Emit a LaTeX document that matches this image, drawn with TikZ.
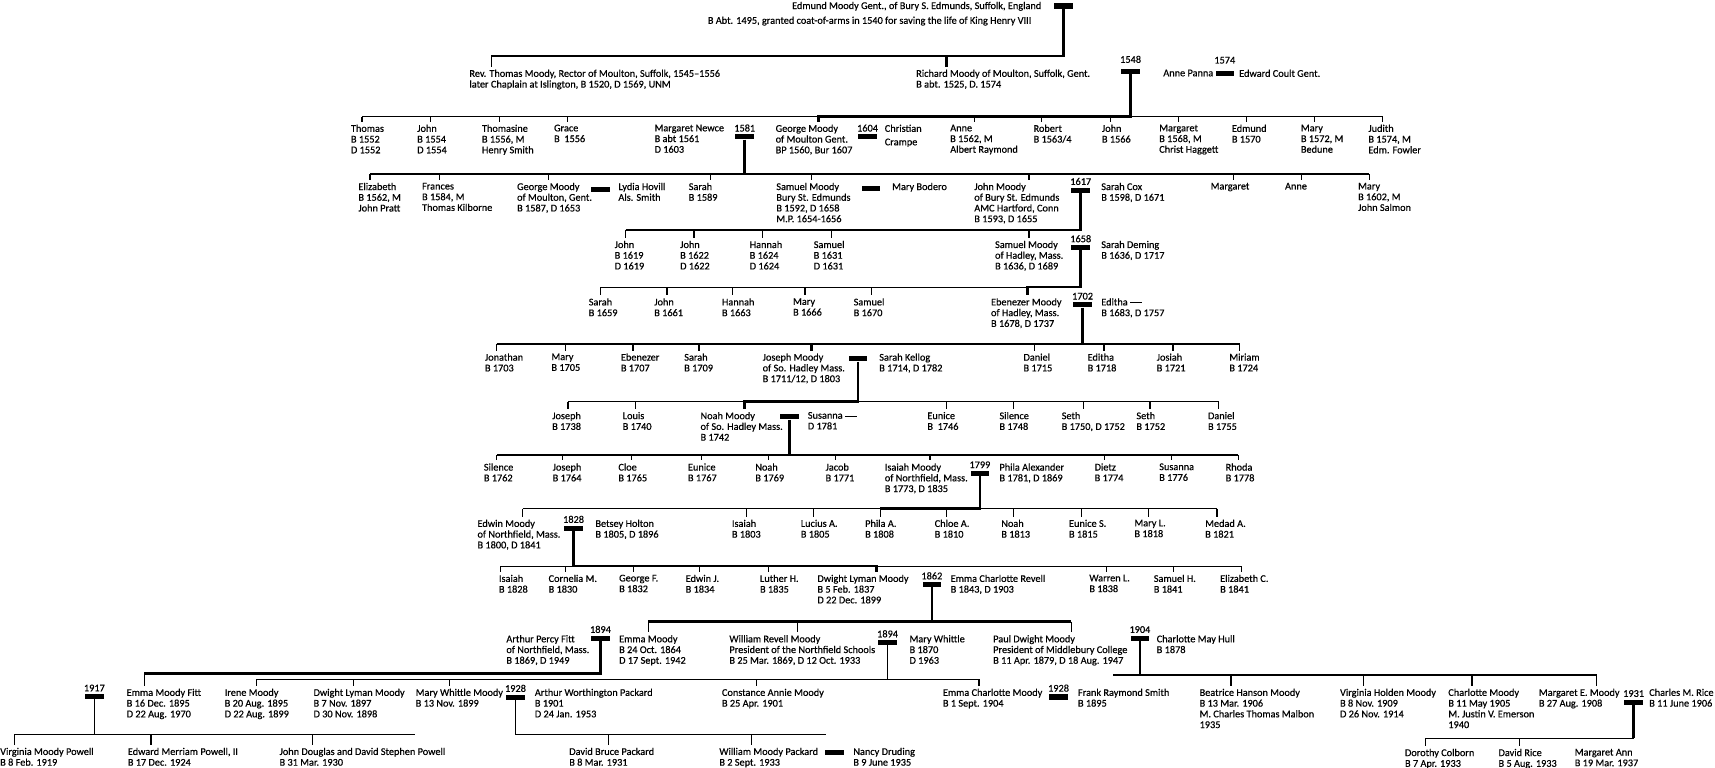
\documentclass[tikz,border=0pt]{standalone}
\usepackage{fontspec}
\setmainfont{Carlito}
\newfontfamily\treefont{Carlito}[Ligatures=TeX, FakeBold=0.45]
\usetikzlibrary{positioning}
\newcommand{\longdash}{\rule[2.3pt]{11pt}{0.5pt}}
\begin{document}
\begin{tikzpicture}[x=1pt,y=-1pt,
	per/.style={
		anchor=north west,
		align=left,
		inner sep=0pt,
		font=\treefont\fontsize{9.4}{9.8}\selectfont
	},
	yr/.style={inner sep=0pt, font=\treefont\fontsize{9.4}{9.8}\selectfont},
	bar/.style={fill=black, inner sep=0pt, minimum width=17pt, minimum height=4.8pt},
	kin/.style={line width=1.1pt},
	tick/.style={line width=1.1pt, shorten >=2.5pt},
	tie/.style={line width=2.4pt}
	]
	\path[fill=white] (0,0) rectangle (1568,702);
	\useasboundingbox (0,0) rectangle (1568,702);
	%---------------- GEN 0 ----------------
	\node[per] (edmund) at (724,1.5) {Edmund Moody Gent., of Bury S. Edmunds, Suffolk, England};
	\node[per] (edmundb) at (647,15) {B Abt. 1495, granted coat-of-arms in 1540 for saving the life of King Henry VIII};
	\node[bar] (bedmund) at (972.2,5.5) {};
	%---------------- GEN 1 ----------------
	\coordinate (revthomas-t) at (449.3,51.2);
	\coordinate (richard-t) at (865.3,51.2);
	\node[per] (revthomas) at (429,63.5) {Rev. Thomas Moody, Rector of Moulton, Suffolk, 1545--1556\\later Chaplain at Islington, B 1520, D 1569, UNM};
	\node[per] (richard) at (837.5,63.5) {Richard Moody of Moulton, Suffolk, Gent.\\B abt. 1525, D. 1574};
	\node[bar] (b1548) at (1033.7,65.3) {};
	\node[yr, above=5pt of b1548] (y1548) {1548};
	\node[per] (annepanna) at (1063.4,63.5) {Anne Panna};
	\node[bar] (b1574) at (1119.8,66.9) {};
	\node[yr, above=6pt of b1574] (y1574) {1574};
	\node[per] (edwardcoult) at (1132.8,63.5) {Edward Coult Gent.};
	\draw[kin] (revthomas-t) -- (richard-t);
	\draw[tick] (revthomas-t) -- (revthomas-t |- revthomas.north);
	\draw[tie, shorten >=2.5pt] (bedmund.south) -- (bedmund.south |- richard-t) -- (richard-t) -- (richard-t |- richard.north);
	%---------------- GEN 2 ----------------
	\coordinate (thomas1552-t) at (330.9,106.7);
	\coordinate (john1554-t) at (393.4,106.7);
	\coordinate (thomasine-t) at (456.7,106.7);
	\coordinate (grace-t) at (518.6,106.7);
	\coordinate (george1560-t) at (748.5,106.7);
	\coordinate (anne1562-t) at (890.6,106.7);
	\coordinate (robert-t) at (952.5,106.7);
	\coordinate (john1566-t) at (1015.1,106.7);
	\coordinate (margaret1568-t) at (1077.5,106.7);
	\coordinate (edmund1570-t) at (1139.5,106.7);
	\coordinate (mary1572-t) at (1201.6,106.7);
	\coordinate (judith-t) at (1264.3,106.7);
	\node[per] (thomas1552) at (320.7,113.8) {Thomas\\B 1552\\D 1552};
	\node[per] (john1554) at (381.3,113.8) {John\\B 1554\\D 1554};
	\node[per] (thomasine) at (440.5,113.8) {Thomasine\\B 1556, M\\Henry Smith};
	\node[per] (grace) at (506.4,113.8) {Grace\\B~~1556};
	\node[per] (margaretnewce) at (598.3,113.8) {Margaret Newce\\B abt 1561\\D 1603};
	\node[bar] (b1581) at (680.9,125.1) {};
	\node[yr, above=2pt of b1581] (y1581) {1581};
	\node[per] (george1560) at (709,113.8) {George Moody\\of Moulton Gent.\\BP 1560, Bur 1607};
	\node[bar] (b1604) at (793.2,125.1) {};
	\node[yr, above=2pt of b1604] (y1604) {1604};
	\node[per] (christian) at (808.8,113.8) {Christian\\[2.5pt]Crampe};
	\node[per] (anne1562) at (868.6,113.8) {Anne\\B 1562, M\\Albert Raymond};
	\node[per] (robert) at (944.8,113.8) {Robert\\B 1563/4};
	\node[per] (john1566) at (1007.3,113.8) {John\\B 1566};
	\node[per] (margaret1568) at (1059.7,113.8) {Margaret\\B 1568, M\\Christ Haggett};
	\node[per] (edmund1570) at (1126.1,113.8) {Edmund\\B 1570};
	\node[per] (mary1572) at (1189.2,113.8) {Mary\\B 1572, M\\Bedune};
	\node[per] (judith) at (1250.9,113.8) {Judith\\B 1574, M\\Edm. Fowler};
	\draw[kin] (thomas1552-t) -- (judith-t);
	\draw[tick] (thomas1552-t) -- (thomas1552-t |- thomas1552.north);
	\draw[tick] (john1554-t) -- (john1554-t |- john1554.north);
	\draw[tick] (thomasine-t) -- (thomasine-t |- thomasine.north);
	\draw[tick] (grace-t) -- (grace-t |- grace.north);
	\draw[tick] (anne1562-t) -- (anne1562-t |- anne1562.north);
	\draw[tick] (robert-t) -- (robert-t |- robert.north);
	\draw[tick] (john1566-t) -- (john1566-t |- john1566.north);
	\draw[tick] (margaret1568-t) -- (margaret1568-t |- margaret1568.north);
	\draw[tick] (edmund1570-t) -- (edmund1570-t |- edmund1570.north);
	\draw[tick] (mary1572-t) -- (mary1572-t |- mary1572.north);
	\draw[tick] (judith-t) -- (judith-t |- judith.north);
	\draw[tie, shorten >=2.5pt] (b1548.south) -- (b1548.south |- george1560-t) -- (george1560-t) -- (george1560-t |- george1560.north);
	%---------------- GEN 3 ----------------
	\coordinate (elizabeth-t) at (338.3,159.1);
	\coordinate (frances-t) at (401.6,159.1);
	\coordinate (george1587-t) at (501.7,159.1);
	\coordinate (sarah1589-t) at (649.8,159.1);
	\coordinate (samuel1592-t) at (742.1,159.1);
	\coordinate (john1593-t) at (940.7,159.1);
	\coordinate (margaret-t) at (1127.8,159.1);
	\coordinate (anne-t) at (1189.8,159.1);
	\coordinate (mary1602-t) at (1251.9,159.1);
	\node[per] (elizabeth) at (327.5,167) {Elizabeth\\B 1562, M\\John Pratt};
	\node[per] (frances) at (385.7,167) {Frances\\B 1584, M\\Thomas Kilborne};
	\node[per] (george1587) at (472.6,167) {George Moody\\of Moulton, Gent.\\B 1587, D 1653};
	\node[bar] (bgeorge) at (549.1,173) {};
	\node[per] (lydia) at (565.2,167) {Lydia Hovill\\Als. Smith};
	\node[per] (sarah1589) at (629.5,167) {Sarah\\B 1589};
	\node[per] (samuel1592) at (709.6,167) {Samuel Moody\\Bury St. Edmunds\\B 1592, D 1658\\M.P. 1654-1656};
	\node[bar] (bsamuel) at (796.3,172.5) {};
	\node[per] (marybodero) at (815.5,167) {Mary Bodero};
	\node[per] (john1593) at (890.6,167) {John Moody\\of Bury St. Edmunds\\AMC Hartford, Conn\\B 1593, D 1655};
	\node[bar] (b1617) at (988.1,173.9) {};
	\node[yr, above=2pt of b1617] (y1617) {1617};
	\node[per] (sarahcox) at (1006.7,167) {Sarah Cox\\B 1598, D 1671};
	\node[per] (margaret) at (1106.7,167) {Margaret};
	\node[per] (anne) at (1174.7,167) {Anne};
	\node[per] (mary1602) at (1241.5,167) {Mary\\B 1602, M\\John Salmon};
	\draw[kin] (elizabeth-t) -- (mary1602-t);
	\draw[tick] (elizabeth-t) -- (elizabeth-t |- elizabeth.north);
	\draw[tick] (frances-t) -- (frances-t |- frances.north);
	\draw[tick] (george1587-t) -- (george1587-t |- george1587.north);
	\draw[tick] (sarah1589-t) -- (sarah1589-t |- sarah1589.north);
	\draw[tick] (samuel1592-t) -- (samuel1592-t |- samuel1592.north);
	\draw[tick] (margaret-t) -- (margaret-t |- margaret.north);
	\draw[tick] (anne-t) -- (anne-t |- anne.north);
	\draw[tick] (mary1602-t) -- (mary1602-t |- mary1602.north);
	\draw[tie, shorten >=2.5pt] (b1581.south) -- (b1581.south |- john1593-t) -- (john1593-t) -- (john1593-t |- john1593.north);
	%---------------- GEN 4 ----------------
	\coordinate (john1619-t) at (572,210.3);
	\coordinate (john1622-t) at (634.5,210.3);
	\coordinate (hannah1624-t) at (697.1,210.3);
	\coordinate (samuel1631-t) at (760,210.3);
	\coordinate (samuel1636-t) at (940.7,210.3);
	\node[per] (john1619) at (561.8,220) {John\\B 1619\\D 1619};
	\node[per] (john1622) at (621.7,220) {John\\B 1622\\D 1622};
	\node[per] (hannah1624) at (685.3,220) {Hannah\\B 1624\\D 1624};
	\node[per] (samuel1631) at (743.8,220) {Samuel\\B 1631\\D 1631};
	\node[per] (samuel1636) at (909.6,220) {Samuel Moody\\of Hadley, Mass.\\B 1636, D 1689};
	\node[bar] (b1658) at (988.1,226.3) {};
	\node[yr, above=2pt of b1658] (y1658) {1658};
	\node[per] (sarahdeming) at (1006.7,220) {Sarah Deming\\B 1636, D 1717};
	\draw[kin] (john1619-t) -- (b1617.south |- john1619-t);
	\draw[tick] (john1619-t) -- (john1619-t |- john1619.north);
	\draw[tick] (john1622-t) -- (john1622-t |- john1622.north);
	\draw[tick] (hannah1624-t) -- (hannah1624-t |- hannah1624.north);
	\draw[tick] (samuel1631-t) -- (samuel1631-t |- samuel1631.north);
	\draw[tie, shorten >=2.5pt] (b1617.south) -- (b1617.south |- samuel1636-t) -- (samuel1636-t) -- (samuel1636-t |- samuel1636.north);
	%---------------- GEN 5 ----------------
	\coordinate (sarah1659-t) at (549,262.5);
	\coordinate (john1661-t) at (609.8,262.5);
	\coordinate (hannah1663-t) at (670,262.5);
	\coordinate (mary1666-t) at (736,262.5);
	\coordinate (samuel1670-t) at (796.9,262.5);
	\coordinate (ebenezer1678-t) at (939.7,262.5);
	\node[per] (sarah1659) at (538.1,272.5) {Sarah\\B 1659};
	\node[per] (john1661) at (598,272.5) {John\\B 1661};
	\node[per] (hannah1663) at (659.9,272.5) {Hannah\\B 1663};
	\node[per] (mary1666) at (724.9,272.5) {Mary\\B 1666};
	\node[per] (samuel1670) at (780.3,272.5) {Samuel\\B 1670};
	\node[per] (ebenezer1678) at (905.9,272.5) {Ebenezer Moody\\of Hadley, Mass.\\B 1678, D 1737};
	\node[bar] (b1702) at (989.8,278.7) {};
	\node[yr, above=2pt of b1702] (y1702) {1702};
	\node[per] (editha1683) at (1006.7,272.5) {Editha \longdash\\B 1683, D 1757};
	\draw[kin] (sarah1659-t) -- (b1658.south |- sarah1659-t);
	\draw[tick] (sarah1659-t) -- (sarah1659-t |- sarah1659.north);
	\draw[tick] (john1661-t) -- (john1661-t |- john1661.north);
	\draw[tick] (hannah1663-t) -- (hannah1663-t |- hannah1663.north);
	\draw[tick] (mary1666-t) -- (mary1666-t |- mary1666.north);
	\draw[tick] (samuel1670-t) -- (samuel1670-t |- samuel1670.north);
	\draw[tie, shorten >=2.5pt] (b1658.south) -- (b1658.south |- ebenezer1678-t) -- (ebenezer1678-t) -- (ebenezer1678-t |- ebenezer1678.north);
	%---------------- GEN 6 ----------------
	\coordinate (jonathan-t) at (454,314.5);
	\coordinate (mary1705-t) at (516.9,314.5);
	\coordinate (ebenezer1707-t) at (578.7,314.5);
	\coordinate (sarah1709-t) at (639,314.5);
	\coordinate (joseph1711-t) at (742.1,314.5);
	\coordinate (daniel1715-t) at (945.8,314.5);
	\coordinate (editha1718-t) at (1009.4,314.5);
	\coordinate (josiah-t) at (1072.5,314.5);
	\coordinate (miriam-t) at (1133.5,314.5);
	\node[per] (jonathan) at (443.2,323) {Jonathan\\B 1703};
	\node[per] (mary1705) at (504,323) {Mary\\B 1705};
	\node[per] (ebenezer1707) at (567.5,323) {Ebenezer\\B 1707};
	\node[per] (sarah1709) at (625.4,323) {Sarah\\B 1709};
	\node[per] (joseph1711) at (697.1,323) {Joseph Moody\\of So. Hadley Mass.\\B 1711/12, D 1803};
	\node[bar] (bjoseph) at (784.3,328) {};
	\node[per] (sarahkellog) at (803.7,323) {Sarah Kellog\\B 1714, D 1782};
	\node[per] (daniel1715) at (935.6,323) {Daniel\\B 1715};
	\node[per] (editha1718) at (994.2,323) {Editha\\B 1718};
	\node[per] (josiah) at (1057.4,323) {Josiah\\B 1721};
	\node[per] (miriam) at (1123.8,323) {Miriam\\B 1724};
	\draw[kin] (jonathan-t) -- (miriam-t);
	\draw[tick] (jonathan-t) -- (jonathan-t |- jonathan.north);
	\draw[tick] (mary1705-t) -- (mary1705-t |- mary1705.north);
	\draw[tick] (ebenezer1707-t) -- (ebenezer1707-t |- ebenezer1707.north);
	\draw[tick] (sarah1709-t) -- (sarah1709-t |- sarah1709.north);
	\draw[tick] (daniel1715-t) -- (daniel1715-t |- daniel1715.north);
	\draw[tick] (editha1718-t) -- (editha1718-t |- editha1718.north);
	\draw[tick] (josiah-t) -- (josiah-t |- josiah.north);
	\draw[tick] (miriam-t) -- (miriam-t |- miriam.north);
	\draw[tie, shorten >=2.5pt] (b1702.south) -- (b1702.south |- joseph1711-t) -- (joseph1711-t) -- (joseph1711-t |- joseph1711.north);
	%---------------- GEN 7 ----------------
	\coordinate (joseph1738-t) at (519.3,367.2);
	\coordinate (louis-t) at (581.1,367.2);
	\coordinate (noah1742-t) at (680.9,367.2);
	\coordinate (eunice1746-t) at (865.3,367.2);
	\coordinate (silence1748-t) at (926.5,367.2);
	\coordinate (seth1750-t) at (990.4,367.2);
	\coordinate (seth1752-t) at (1051.4,367.2);
	\coordinate (daniel1755-t) at (1114.4,367.2);
	\node[per] (joseph1738) at (504.7,376.5) {Joseph\\B 1738};
	\node[per] (louis) at (569.2,376.5) {Louis\\B 1740};
	\node[per] (noah1742) at (640.3,376.5) {Noah Moody\\of So. Hadley Mass.\\B 1742};
	\node[bar] (bnoah) at (721.9,381.1) {};
	\node[per] (susanna1781) at (738.4,376.5) {Susanna \longdash\\D 1781};
	\node[per] (eunice1746) at (847.7,376.5) {Eunice\\B~~1746};
	\node[per] (silence1748) at (913.6,376.5) {Silence\\B 1748};
	\node[per] (seth1750) at (970.5,376.5) {Seth\\B 1750, D 1752};
	\node[per] (seth1752) at (1038.8,376.5) {Seth\\B 1752};
	\node[per] (daniel1755) at (1104.3,376.5) {Daniel\\B 1755};
	\draw[kin] (joseph1738-t) -- (daniel1755-t);
	\draw[tick] (joseph1738-t) -- (joseph1738-t |- joseph1738.north);
	\draw[tick] (louis-t) -- (louis-t |- louis.north);
	\draw[tick] (eunice1746-t) -- (eunice1746-t |- eunice1746.north);
	\draw[tick] (silence1748-t) -- (silence1748-t |- silence1748.north);
	\draw[tick] (seth1750-t) -- (seth1750-t |- seth1750.north);
	\draw[tick] (seth1752-t) -- (seth1752-t |- seth1752.north);
	\draw[tick] (daniel1755-t) -- (daniel1755-t |- daniel1755.north);
	\draw[tie, shorten >=2.5pt] (bjoseph.south) -- (bjoseph.south |- noah1742-t) -- (noah1742-t) -- (noah1742-t |- noah1742.north);
	%---------------- GEN 8 ----------------
	\coordinate (silence1762-t) at (454.3,416);
	\coordinate (joseph1764-t) at (514.2,416);
	\coordinate (cloe-t) at (577,416);
	\coordinate (eunice1767-t) at (641.3,416);
	\coordinate (noah1769-t) at (702.9,416);
	\coordinate (jacob-t) at (764.1,416);
	\coordinate (isaiah1773-t) at (850.4,416);
	\coordinate (dietz-t) at (1010,416);
	\coordinate (susanna1776-t) at (1070.8,416);
	\coordinate (rhoda-t) at (1132.2,416);
	\node[per] (silence1762) at (442.2,423.5) {Silence\\B 1762};
	\node[per] (joseph1764) at (505.1,423.5) {Joseph\\B 1764};
	\node[per] (cloe) at (565.2,423.5) {Cloe\\B 1765};
	\node[per] (eunice1767) at (628.8,423.5) {Eunice\\B 1767};
	\node[per] (noah1769) at (690.4,423.5) {Noah\\B 1769};
	\node[per] (jacob) at (754.6,423.5) {Jacob\\B 1771};
	\node[per] (isaiah1773) at (808.8,423.5) {Isaiah Moody\\of Northfield, Mass.\\B 1773, D 1835};
	\node[bar] (b1799) at (895.9,432.8) {};
	\node[yr, above=2pt of b1799] (y1799) {1799};
	\node[per] (phila1781) at (913.6,423.5) {Phila Alexander\\B 1781, D 1869};
	\node[per] (dietz) at (1000.6,423.5) {Dietz\\B 1774};
	\node[per] (susanna1776) at (1059.7,423.5) {Susanna\\B 1776};
	\node[per] (rhoda) at (1120.4,423.5) {Rhoda\\B 1778};
	\draw[kin] (silence1762-t) -- (rhoda-t);
	\draw[tick] (silence1762-t) -- (silence1762-t |- silence1762.north);
	\draw[tick] (joseph1764-t) -- (joseph1764-t |- joseph1764.north);
	\draw[tick] (cloe-t) -- (cloe-t |- cloe.north);
	\draw[tick] (eunice1767-t) -- (eunice1767-t |- eunice1767.north);
	\draw[tick] (noah1769-t) -- (noah1769-t |- noah1769.north);
	\draw[tick] (jacob-t) -- (jacob-t |- jacob.north);
	\draw[tick] (dietz-t) -- (dietz-t |- dietz.north);
	\draw[tick] (susanna1776-t) -- (susanna1776-t |- susanna1776.north);
	\draw[tick] (rhoda-t) -- (rhoda-t |- rhoda.north);
	\draw[tie, shorten >=2.5pt] (bnoah.south) -- (bnoah.south |- isaiah1773-t) -- (isaiah1773-t) -- (isaiah1773-t |- isaiah1773.north);
	%---------------- GEN 9 ----------------
	\coordinate (edwin1800-t) at (478,465);
	\coordinate (isaiah1803-t) at (682.6,465);
	\coordinate (lucius-t) at (743.5,465);
	\coordinate (phila1808-t) at (804.7,465);
	\coordinate (chloe-t) at (865.3,465);
	\coordinate (noah1813-t) at (926.5,465);
	\coordinate (eunice1815-t) at (989.1,465);
	\coordinate (mary1818-t) at (1049.7,465);
	\coordinate (medad-t) at (1112.7,465);
	\node[per] (edwin1800) at (436.4,475) {Edwin Moody\\of Northfield, Mass.\\B 1800, D 1841};
	\node[bar] (b1828) at (524.4,482.9) {};
	\node[yr, above=2pt of b1828] (y1828) {1828};
	\node[per] (betsey) at (544.2,475) {Betsey Holton\\B 1805, D 1896};
	\node[per] (isaiah1803) at (669,475) {Isaiah\\B 1803};
	\node[per] (lucius) at (732,475) {Lucius A.\\B 1805};
	\node[per] (phila1808) at (790.8,475) {Phila A.\\B 1808};
	\node[per] (chloe) at (854.4,475) {Chloe A.\\B 1810};
	\node[per] (noah1813) at (915.3,475) {Noah\\B 1813};
	\node[per] (eunice1815) at (977.2,475) {Eunice S.\\B 1815};
	\node[per] (mary1818) at (1037,475) {Mary L.\\B 1818};
	\node[per] (medad) at (1101.7,475) {Medad A.\\B 1821};
	\draw[kin] (edwin1800-t) -- (medad-t);
	\draw[tick] (edwin1800-t) -- (edwin1800-t |- edwin1800.north);
	\draw[tick] (isaiah1803-t) -- (isaiah1803-t |- isaiah1803.north);
	\draw[tick] (lucius-t) -- (lucius-t |- lucius.north);
	\draw[tick] (phila1808-t) -- (phila1808-t |- phila1808.north);
	\draw[tick] (chloe-t) -- (chloe-t |- chloe.north);
	\draw[tick] (noah1813-t) -- (noah1813-t |- noah1813.north);
	\draw[tick] (eunice1815-t) -- (eunice1815-t |- eunice1815.north);
	\draw[tick] (mary1818-t) -- (mary1818-t |- mary1818.north);
	\draw[tick] (medad-t) -- (medad-t |- medad.north);
	\draw[tie] (b1799.south) -- (b1799.south |- phila1808-t) -- (phila1808-t);
	%---------------- GEN 10 ----------------
	\coordinate (isaiah1828-t) at (457.4,517.6);
	\coordinate (cornelia-t) at (516.9,517.6);
	\coordinate (george1832-t) at (579.4,517.6);
	\coordinate (edwin1834-t) at (639.6,517.6);
	\coordinate (luther-t) at (702.9,517.6);
	\coordinate (dwight1837-t) at (801.3,517.6);
	\coordinate (warren-t) at (1011.8,517.6);
	\coordinate (samuel1841-t) at (1073.1,517.6);
	\coordinate (elizabeth1841-t) at (1135.2,517.6);
	\node[per] (isaiah1828) at (456,525.3) {Isaiah\\B 1828};
	\node[per] (cornelia) at (501.4,525.3) {Cornelia M.\\B 1830};
	\node[per] (george1832) at (565.9,525.3) {George F.\\B 1832};
	\node[per] (edwin1834) at (626.7,525.3) {Edwin J.\\B 1834};
	\node[per] (luther) at (694.7,525.3) {Luther H.\\B 1835};
	\node[per] (dwight1837) at (747.2,525.3) {Dwight Lyman Moody\\B 5 Feb. 1837\\D 22 Dec. 1899};
	\node[bar] (b1862) at (852,534.5) {};
	\node[yr, above=2pt of b1862] (y1862) {1862};
	\node[per] (emmarevell) at (869,525.3) {Emma Charlotte Revell\\B 1843, D 1903};
	\node[per] (warren) at (995.8,525.3) {Warren L.\\B 1838};
	\node[per] (samuel1841) at (1054.7,525.3) {Samuel H.\\B 1841};
	\node[per] (elizabeth1841) at (1115.4,525.3) {Elizabeth C.\\B 1841};
	\draw[kin] (isaiah1828-t) -- (elizabeth1841-t);
	\draw[tick] (isaiah1828-t) -- (isaiah1828-t |- isaiah1828.north);
	\draw[tick] (cornelia-t) -- (cornelia-t |- cornelia.north);
	\draw[tick] (george1832-t) -- (george1832-t |- george1832.north);
	\draw[tick] (edwin1834-t) -- (edwin1834-t |- edwin1834.north);
	\draw[tick] (luther-t) -- (luther-t |- luther.north);
	\draw[tick] (warren-t) -- (warren-t |- warren.north);
	\draw[tick] (samuel1841-t) -- (samuel1841-t |- samuel1841.north);
	\draw[tick] (elizabeth1841-t) -- (elizabeth1841-t |- elizabeth1841.north);
	\draw[tie, shorten >=2.5pt] (b1828.south) -- (b1828.south |- dwight1837-t) -- (dwight1837-t) -- (dwight1837-t |- dwight1837.north);
	%---------------- GEN 11 ----------------
	\coordinate (emma1864-t) at (592.9,568.4);
	\coordinate (william1869-t) at (729.3,568.4);
	\coordinate (paul1879-t) at (979.6,568.4);
	\node[per] (arthurfitt) at (462.8,580.5) {Arthur Percy Fitt\\of Northfield, Mass.\\B 1869, D 1949};
	\node[bar] (b1894a) at (549,583.5) {};
	\node[yr, above=2pt of b1894a] (y1894a) {1894};
	\node[per] (emma1864) at (565.9,580.5) {Emma Moody\\B 24 Oct. 1864\\D 17 Sept. 1942};
	\node[per] (william1869) at (666.7,580.5) {William Revell Moody\\President of the Northfield Schools\\B 25 Mar. 1869, D 12 Oct. 1933};
	\node[bar] (b1894b) at (811.5,587.5) {};
	\node[yr, above=2pt of b1894b] (y1894b) {1894};
	\node[per] (marywhittle) at (831.4,580.5) {Mary Whittle\\B 1870\\D 1963};
	\node[per] (paul1879) at (907.9,580.5) {Paul Dwight Moody\\President of Middlebury College\\B 11 Apr. 1879, D 18 Aug. 1947};
	\node[bar] (b1904) at (1042.2,583.5) {};
	\node[yr, above=2pt of b1904] (y1904) {1904};
	\node[per] (charlottehull) at (1057.4,580.5) {Charlotte May Hull\\B 1878};
	\draw[tie] (emma1864-t) -- (paul1879-t);
	\draw[tie] (b1862.south) -- (b1862.south |- emma1864-t);
	\draw[tick] (emma1864-t) -- (emma1864-t |- emma1864.north);
	\draw[tick] (william1869-t) -- (william1869-t |- william1869.north);
	\draw[tick] (paul1879-t) -- (paul1879-t |- paul1879.north);
	%---------------- GEN 12 ----------------
	\coordinate (emmafitt-t) at (131.9,616);
	\coordinate (irene-t) at (234.4,621);
	\coordinate (dwight1897-t) at (323.1,621);
	\coordinate (marywm-t) at (411,621);
	\coordinate (constance-t) at (692,621);
	\coordinate (emmacm-t) at (895,621);
	\coordinate (paul-end) at (1017.8,617.2);
	\coordinate (beatrice-t) at (1125.5,617.2);
	\coordinate (virginiahm-t) at (1246.8,617.2);
	\coordinate (charlotte1905-t) at (1345.8,617.2);
	\coordinate (margarete-t) at (1459.8,617.2);
	\node[bar] (b1917) at (86.3,636.9) {};
	\node[yr, above=2pt of b1917] (y1917) {1917};
	\node[per] (emmafitt) at (115.7,629.5) {Emma Moody Fitt\\B 16 Dec. 1895\\D 22 Aug. 1970};
	\node[per] (irene) at (205.3,629.5) {Irene Moody\\B 20 Aug. 1895\\D 22 Aug. 1899};
	\node[per] (dwight1897) at (286.5,629.5) {Dwight Lyman Moody\\B 7 Nov. 1897\\D 30 Nov. 1898};
	\node[per] (marywm) at (379.9,629.5) {Mary Whittle Moody\\B 13 Nov. 1899};
	\node[bar] (b1928a) at (471.3,637.4) {};
	\node[yr, above=2pt of b1928a] (y1928a) {1928};
	\node[per] (arthurpackard) at (488.8,629.5) {Arthur Worthington Packard\\B 1901\\D 24 Jan. 1953};
	\node[per] (constance) at (659.9,629.5) {Constance Annie Moody\\B 25 Apr. 1901};
	\node[per] (emmacm) at (861.9,629.5) {Emma Charlotte Moody\\B 1 Sept. 1904};
	\node[bar] (b1928b) at (967.8,637.2) {};
	\node[yr, above=2pt of b1928b] (y1928b) {1928};
	\node[per] (frank) at (985.4,629.5) {Frank Raymond Smith\\B 1895};
	\node[per] (beatrice) at (1096.6,629.5) {Beatrice Hanson Moody\\B 13 Mar. 1906\\M. Charles Thomas Malbon\\1935};
	\node[per] (virginiahm) at (1225,629.5) {Virginia Holden Moody\\B 8 Nov. 1909\\D 26 Nov. 1914};
	\node[per] (charlotte1905) at (1324,629.5) {Charlotte Moody\\B 11 May 1905\\M. Justin V. Emerson\\1940};
	\node[per] (margarete) at (1406.8,629.5) {Margaret E. Moody\\B 27 Aug. 1908};
	\node[bar] (b1931) at (1493.6,642) {};
	\node[yr, above=2pt of b1931] (y1931) {1931};
	\node[per] (charlesrice) at (1507.7,629.5) {Charles M. Rice\\B 11 June 1906};
	\draw[tie] (b1894a.south) -- (b1894a.south |- emmafitt-t) -- (emmafitt-t);
	\draw[tick] (emmafitt-t) -- (emmafitt-t |- emmafitt.north);
	\draw[kin] (irene-t) -- (emmacm-t);
	\draw[kin] (b1894b.south) -- (b1894b.south |- irene-t);
	\draw[tick] (irene-t) -- (irene-t |- irene.north);
	\draw[tick] (dwight1897-t) -- (dwight1897-t |- dwight1897.north);
	\draw[tick] (marywm-t) -- (marywm-t |- marywm.north);
	\draw[tick] (constance-t) -- (constance-t |- constance.north);
	\draw[tick] (emmacm-t) -- (emmacm-t |- emmacm.north);
	\draw[kin] (paul-end) -- (margarete-t);
	\draw[tie] (b1904.south) -- (b1904.south |- paul-end);
	\draw[tick] (beatrice-t) -- (beatrice-t |- beatrice.north);
	\draw[tick] (virginiahm-t) -- (virginiahm-t |- virginiahm.north);
	\draw[tick] (charlotte1905-t) -- (charlotte1905-t |- charlotte1905.north);
	\draw[tick] (margarete-t) -- (margarete-t |- margarete.north);
	%---------------- GEN 13 ----------------
	\coordinate (virginiamp-t) at (13.5,671.2);
	\coordinate (edward-t) at (138,671.2);
	\coordinate (johndouglas-t) at (285.9,671.2);
	\coordinate (powell-end) at (379.6,671.2);
	\coordinate (davidbruce-t) at (556.1,671.2);
	\coordinate (williammp-t) at (687,671.2);
	\coordinate (packard-end) at (755.6,671.2);
	\coordinate (dorothy-t) at (1303.2,675);
	\coordinate (davidrice-t) at (1389.3,675);
	\node[per] (virginiamp) at (0,683.5) {Virginia Moody Powell\\B 8 Feb. 1919};
	\node[per] (edward) at (116.7,683.5) {Edward Merriam Powell, II\\B 17 Dec. 1924};
	\node[per] (johndouglas) at (255.4,683.5) {John Douglas and David Stephen Powell\\B 31 Mar. 1930};
	\node[per] (davidbruce) at (520.3,683.5) {David Bruce Packard\\B 8 Mar. 1931};
	\node[per] (williammp) at (657.5,683.5) {William Moody Packard\\B 2 Sept. 1933};
	\node[bar] (bwilliam) at (762.8,687.8) {};
	\node[per] (nancy) at (780,683.5) {Nancy Druding\\B 9 June 1935};
	\node[per] (dorothy) at (1284.4,684.5) {Dorothy Colborn\\B 7 Apr. 1933};
	\node[per] (davidrice) at (1369.9,684.5) {David Rice\\B 5 Aug. 1933};
	\node[per] (margaretann) at (1439.6,684.5) {Margaret Ann\\B 19 Mar. 1937};
	\draw[kin] (virginiamp-t) -- (powell-end);
	\draw[kin] (b1917.south) -- (b1917.south |- virginiamp-t);
	\draw[tick] (virginiamp-t) -- (virginiamp-t |- virginiamp.north);
	\draw[tick] (edward-t) -- (edward-t |- edward.north);
	\draw[tick] (johndouglas-t) -- (johndouglas-t |- johndouglas.north);
	\draw[kin] (b1928a.south) -- (b1928a.south |- davidbruce-t) -- (packard-end);
	\draw[tick] (davidbruce-t) -- (davidbruce-t |- davidbruce.north);
	\draw[tick] (williammp-t) -- (williammp-t |- williammp.north);
	\draw[tie] (b1931.south) -- (b1931.south |- dorothy-t);
	\draw[kin] (b1931.south |- dorothy-t) -- (dorothy-t);
	\draw[tick] (dorothy-t) -- (dorothy-t |- dorothy.north);
	\draw[tick] (davidrice-t) -- (davidrice-t |- davidrice.north);
\end{tikzpicture}
\end{document}
